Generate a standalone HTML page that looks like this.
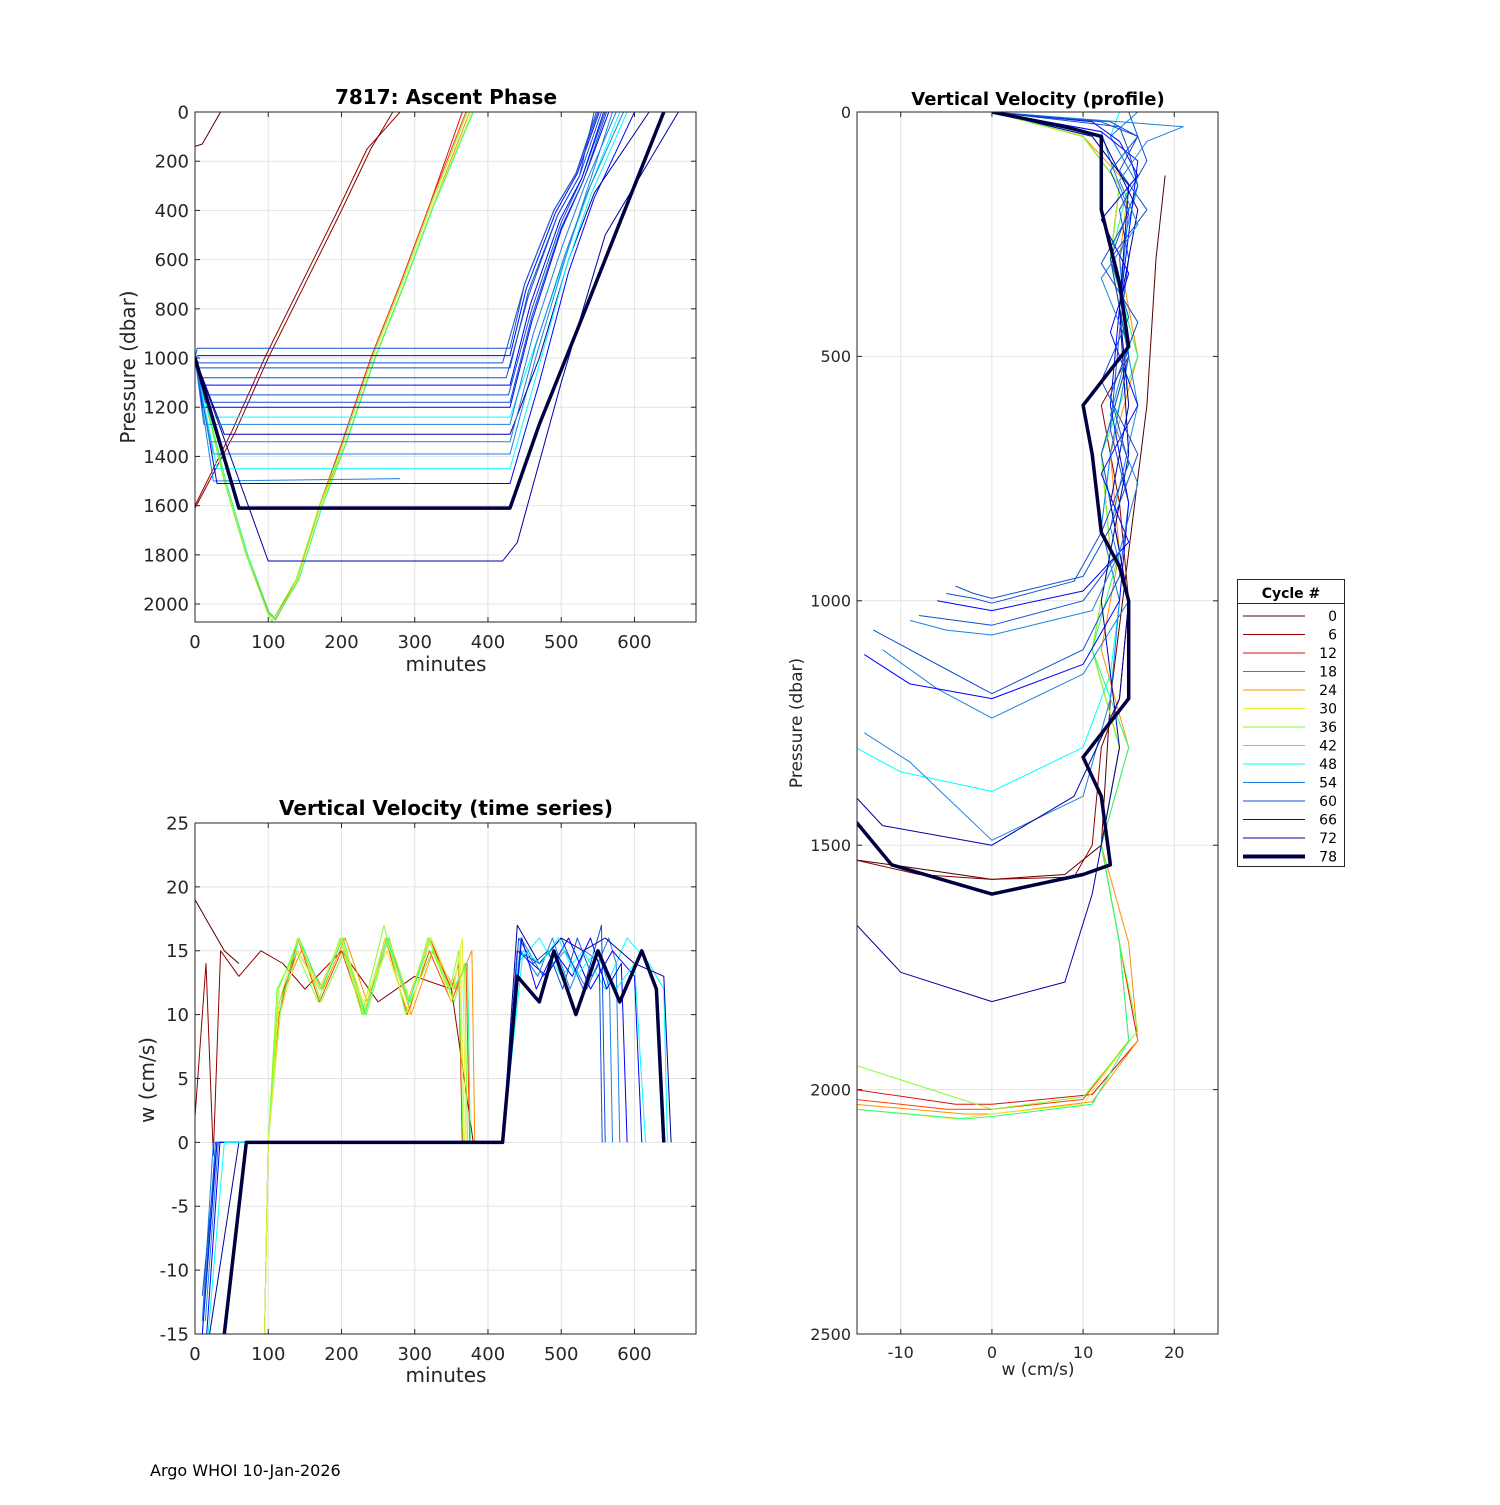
<!DOCTYPE html>
<html><head><meta charset="utf-8"><style>
body{margin:0;background:#fff;width:1500px;height:1500px;overflow:hidden;font-family:"Liberation Sans","DejaVu Sans",sans-serif}
svg text{font-family:"DejaVu Sans","Liberation Sans",sans-serif}
</style></head><body>
<svg id="chart" width="1500" height="1500" viewBox="0 0 1500 1500" xmlns="http://www.w3.org/2000/svg">
<rect width="1500" height="1500" fill="#fff"/>
<g id="p1"></g>
<g id="p2"></g>
<g id="p3"></g>
<g id="leg"></g>
<text x="150" y="1476" font-size="16">Argo WHOI 10-Jan-2026</text>
</svg>
<script>
const legendCycles=[0,6,12,18,24,30,36,42,48,54,60,66,72,78];
const legendColors=["#500000","#900000","#dd1010","#ff4000","#ff9000","#e8f030","#80ff30","#20ff80","#00ffff","#2080e0","#1050d0","#0000ff","#0000a0","#000040"];
// Ascent: minutes, pressure per representative cycle
const ascCycle=[0,6,6,12,18,24,30,36,42,48,54,54,60,60,60,66,66,72,72,78,60,66,60,54,48,66,60,54];
const ascT=[
 [0,10,35],
 [0,55,100,150,200,240,270],
 [0,50,95,145,195,235,280],
 [0,40,70,100,110,140,170,200,240,280,320,365],
 [0,40,70,100,108,140,170,200,240,280,320,370],
 [0,40,70,100,110,140,170,205,245,285,325,375],
 [0,40,70,100,110,140,172,205,245,285,325,378],
 [0,40,70,100,105,138,170,202,242,282,322,372],
 [0,42,72,102,110,142,174,206,246,286,326,380],
 [0,20,430,470,510,540,580],
 [0,25,430,465,505,535,570],
 [0,25,280],
 [0,5,420,450,490,520,550],
 [0,10,425,455,495,525,555],
 [0,15,428,460,500,528,560],
 [0,10,430,460,500,530,565],
 [0,30,430,470,510,545,600],
 [0,100,420,440,500,560,660],
 [0,40,430,470,510,545,620],
 [0,60,430,470,520,580,640],
 [0,3,430,450,490,520,548],
 [0,4,430,452,492,522,552],
 [0,6,430,455,495,525,545],
 [0,12,430,462,502,532,575],
 [0,30,430,468,508,540,590],
 [0,8,430,458,498,528,558],
 [0,14,430,460,500,530,562],
 [0,20,430,465,505,537,585]];
const ascP=[
 [140,130,0],
 [1610,1300,1000,700,400,150,0],
 [1600,1300,1000,700,400,150,0],
 [1000,1500,1800,2040,2060,1900,1600,1350,1000,700,380,0],
 [1000,1500,1800,2030,2055,1900,1600,1350,1000,700,380,0],
 [1000,1500,1800,2040,2065,1900,1600,1350,1000,700,380,0],
 [1000,1500,1800,2040,2060,1900,1600,1350,1000,700,380,0],
 [1000,1500,1800,2040,2070,1900,1600,1350,1000,700,380,0],
 [1000,1500,1800,2040,2060,1900,1600,1350,1000,700,380,0],
 [1000,1240,1240,900,550,300,0],
 [1000,1390,1390,1000,600,320,0],
 [1000,1500,1490],
 [1000,1020,1020,700,400,250,0],
 [1000,1080,1080,750,420,260,0],
 [1000,1150,1150,800,450,270,0],
 [1000,1200,1200,850,480,280,0],
 [1000,1510,1510,1100,650,350,0],
 [1000,1825,1825,1750,1100,500,0],
 [1000,1310,1310,1000,600,330,0],
 [1000,1610,1610,1270,900,450,0],
 [1000,960,960,700,400,250,0],
 [1000,990,990,720,410,250,0],
 [1000,1040,1040,730,420,260,0],
 [1000,1270,1270,900,540,300,0],
 [1000,1450,1450,1050,620,340,0],
 [1000,1110,1110,780,440,270,0],
 [1000,1180,1180,830,470,280,0],
 [1000,1340,1340,950,580,320,0]];
// Vertical velocity time series: minutes, w (cm/s)
const tsCycle=[0,6,12,18,24,30,36,42,48,54,60,66,72,78,60,54,66,48,36,30];
const tsT=[
 [0,10,20,30,40,60],
 [0,15,25,35,60,90,120,150,200,250,300,350,380],
 [95,100,115,140,170,200,230,260,290,320,350,360,365],
 [95,100,115,140,170,200,230,260,290,320,350,370,375],
 [95,100,115,145,175,205,235,265,295,325,355,378,382],
 [95,100,115,140,170,200,230,260,290,320,350,365,370],
 [95,100,112,138,168,198,228,258,288,318,348,360,366],
 [95,100,118,142,172,202,232,262,292,322,352,372,376],
 [10,30,420,440,470,500,530,560,590,620,640,645],
 [10,25,420,445,475,505,535,565,575,580],
 [10,30,420,440,470,500,530,555,560],
 [10,30,420,440,480,510,540,570,600,610],
 [20,60,420,440,470,500,530,560,600,640,650],
 [40,70,420,440,470,490,520,550,580,610,630,640],
 [12,28,420,442,462,482,502,522,542,552,556],
 [14,32,420,445,468,488,512,532,556,566,570],
 [16,34,420,446,466,490,515,540,562,582,590],
 [18,40,420,448,472,496,520,548,575,600,615],
 [95,100,114,142,172,204,234,264,294,324,354,368,372],
 [95,100,116,140,170,200,230,262,292,322,352,362,368]];
const tsW=[
 [19,18,17,16,15,14],
 [2,14,-1,15,13,15,14,12,15,11,13,12,0],
 [-15,0,11,15,12,16,10,16,11,16,12,14,0],
 [-15,0,10,16,11,15,10,16,10,15,11,14,0],
 [-15,0,11,15,12,16,11,16,10,15,12,15,0],
 [-15,0,11,16,12,16,10,16,11,16,11,16,0],
 [-15,0,12,15,11,16,10,17,10,16,12,15,0],
 [-15,0,11,16,12,16,10,16,11,16,12,14,0],
 [-15,0,0,14,16,13,15,12,16,14,12,0],
 [-14,0,0,16,13,15,12,16,14,0],
 [-12,0,0,15,14,16,12,17,0],
 [-15,0,0,15,13,16,12,15,13,0],
 [-15,0,0,17,14,16,15,16,14,13,0],
 [-15,0,0,13,11,15,10,15,11,15,12,0],
 [-13,0,0,16,14,15,12,16,13,14,0],
 [-14,0,0,15,13,16,12,15,14,12,0],
 [-15,0,0,16,12,15,13,16,12,14,0],
 [-15,0,0,15,14,16,13,15,12,14,0],
 [-15,0,12,16,11,15,10,16,11,15,11,14,0],
 [-15,0,10,15,12,16,11,15,10,16,12,15,0]];
// Vertical velocity profile: w (cm/s), pressure
const prCycle=[0,6,12,18,24,30,36,42,48,54,54,60,60,66,72,72,78,60,66,54,60];
const prW=[
 [-15,-11,0,8,12,13,15,17,18,19],
 [-15,-8,0,9,11,12,14,15,14,12,15,13,14,10,0],
 [-15,-4,0,11,16,14,12,14,11,13,12,15,13,14,10,0],
 [-15,-5,0,10,15,14,12,14,11,13,12,15,13,14,10,0],
 [-15,-3,0,11,16,15,12,15,12,14,13,16,14,15,10,0],
 [-15,-4,0,10,15,14,12,14,11,13,12,15,13,14,10,0],
 [-15,-5,0,10,16,14,12,14,11,13,12,15,13,14,10,0],
 [-15,-3,0,11,15,14,12,15,11,14,12,16,13,15,11,0],
 [-15,-10,0,10,13,14,12,13,15,14,16,13,14,10,0],
 [-14,-9,0,10,13,14,12,13,15,14,16,13,16,11,0],
 [-12,-6,0,10,15,13,16,14,15,13,12,0],
 [-13,-7,0,10,14,15,13,14,15,14,17,15,12,0],
 [-8,-4,0,10,14,12,15,13,16,15,14,0],
 [-14,-9,0,10,14,15,13,14,15,16,12,0],
 [-15,-12,0,9,14,15,13,15,14,16,12,0],
 [-15,-10,0,8,11,14,12,15,14,15,11,0],
 [-15,-11,0,10,13,12,10,15,15,14,12,11,10,15,14,12,12,8,0],
 [-4,-2,0,10,13,16,12,15,13,17,14,16,13,0],
 [-6,-3,0,10,15,12,16,13,15,12,16,14,11,0],
 [-9,-5,0,11,14,16,13,15,12,16,14,17,21,0],
 [-5,-2,0,9,12,15,13,16,12,15,13,16,12,0]];
const prP=[
 [1530,1540,1570,1560,1500,1200,900,600,300,130],
 [1530,1560,1570,1565,1500,1300,1200,1000,800,600,500,300,150,50,0],
 [2000,2030,2030,2010,1900,1700,1500,1300,1100,900,700,500,300,150,50,0],
 [2020,2040,2040,2020,1900,1700,1500,1300,1100,900,700,500,300,150,50,0],
 [2030,2050,2050,2025,1900,1700,1500,1300,1100,900,700,500,300,150,50,0],
 [2040,2060,2050,2030,1900,1700,1500,1300,1100,900,700,500,300,150,50,0],
 [1950,2010,2040,2015,1880,1700,1500,1300,1100,900,700,500,300,150,50,0],
 [2040,2060,2055,2030,1900,1700,1500,1300,1100,900,700,500,300,150,50,0],
 [1300,1350,1390,1300,1150,1000,850,700,500,300,150,50,0],
 [1270,1330,1490,1400,1200,1000,850,700,500,300,150,50,0],
 [1100,1180,1240,1150,1000,850,600,400,200,100,40,0],
 [1060,1120,1190,1100,950,800,650,450,300,200,100,0],
 [1030,1040,1050,1000,900,700,500,300,150,80,30,0],
 [1110,1170,1200,1130,1000,800,600,400,250,100,40,0],
 [1400,1460,1500,1400,1200,1000,800,600,400,200,50,0],
 [1660,1760,1820,1780,1600,1300,1000,700,400,150,50,0],
 [1450,1540,1600,1560,1540,1400,1320,1200,1000,930,860,700,600,480,350,200,50,30,0],
 [970,985,995,950,850,700,550,420,300,200,120,50,20,0],
 [1000,1010,1020,980,880,740,600,450,330,220,130,60,20,0],
 [1040,1060,1070,1020,900,760,620,480,340,230,140,60,30,0],
 [985,995,1005,960,860,720,580,430,310,210,120,50,20,0]];

const NS="http://www.w3.org/2000/svg";
function mk(tag,attrs,parent){const e=document.createElementNS(NS,tag);for(const k in attrs)e.setAttribute(k,attrs[k]);parent.appendChild(e);return e;}
function colorOf(c){return legendColors[legendCycles.indexOf(c)];}

function axes(g,box,xd,yd,xt,yt,opts){
  const sx=v=>box.x+(v-xd[0])/(xd[1]-xd[0])*box.w;
  const sy=v=>box.y+(v-yd[0])/(yd[1]-yd[0])*box.h;
  mk('rect',{x:box.x,y:box.y,width:box.w,height:box.h,fill:'#fff'},g);
  xt.forEach(v=>{const l=mk('line',{x1:sx(v),x2:sx(v),y1:box.y,y2:box.y+box.h,stroke:'#e3e3e3','stroke-width':1},g);
    
    
    const t=mk('text',{x:sx(v),y:box.y+box.h+opts.fs+8,'font-size':opts.fs,'text-anchor':'middle',fill:'#262626'},g);t.textContent=v;
    
    
    mk('line',{x1:sx(v),x2:sx(v),y1:box.y+box.h,y2:box.y+box.h-5,stroke:'#262626'},g);mk('line',{x1:sx(v),x2:sx(v),y1:box.y,y2:box.y+5,stroke:'#262626'},g);});
  yt.forEach(v=>{const l=mk('line',{x1:box.x,x2:box.x+box.w,y1:sy(v),y2:sy(v),stroke:'#e3e3e3','stroke-width':1},g);
    
    
    const t=mk('text',{x:box.x-6,y:sy(v)+opts.fs*0.36,'font-size':opts.fs,'text-anchor':'end',fill:'#262626'},g);t.textContent=v;
    
    
    mk('line',{x1:box.x,x2:box.x+5,y1:sy(v),y2:sy(v),stroke:'#262626'},g);mk('line',{x1:box.x+box.w,x2:box.x+box.w-5,y1:sy(v),y2:sy(v),stroke:'#262626'},g);});
  return {sx,sy};
}
function frame(g,box){const r=mk('rect',{x:box.x,y:box.y,width:box.w,height:box.h,fill:'none',stroke:'#262626','stroke-width':1},g);
  
  }
function series(g,s,xs,ys,c,cls){
  const pts=xs.map((v,i)=>s.sx(v).toFixed(1)+','+s.sy(ys[i]).toFixed(1)).join(' ');
  const w=c===78?3.5:1;
  const p=mk('polyline',{points:pts,fill:'none',stroke:colorOf(c),'stroke-width':w,'stroke-linejoin':'round'},g);
  
  
}
function label(g,x,y,txt,fs,bold,rot,name){
  const t=mk('text',{x:x,y:y,'font-size':fs,'text-anchor':'middle',fill:bold?'#000':'#262626','font-weight':bold?'bold':'normal'},g);
  if(rot)t.setAttribute('transform','rotate(-90 '+x+' '+y+')');
  t.textContent=txt;
  
  
}
function clip(id,box){const d=mk('clipPath',{id:id},document.getElementById('chart'));mk('rect',{x:box.x,y:box.y,width:box.w,height:box.h},d);}
function drawOrdered(g,s,xsArr,ysArr,cyc,cls){
  const idx=xsArr.map((_,i)=>i).sort((a,b)=>(cyc[a]===78)-(cyc[b]===78));
  idx.forEach(i=>series(g,s,xsArr[i],ysArr[i],cyc[i],cls));
}

// Panel 1
const g1=document.getElementById('p1');const b1={x:195,y:112,w:501,h:510};
const s1=axes(g1,b1,[0,684],[0,2073],[0,100,200,300,400,500,600],[0,200,400,600,800,1000,1200,1400,1600,1800,2000],{fs:18});
clip('c1',b1);const l1=mk('g',{'clip-path':'url(#c1)'},g1);
drawOrdered(l1,s1,ascT,ascP,ascCycle,'ascent-line');
frame(g1,b1);
label(g1,446,104,'7817: Ascent Phase',20,true,false,'ascent-title');
label(g1,446,671,'minutes',20,false,false,'ascent-x-title');
label(g1,135,367,'Pressure (dbar)',20,false,true,'ascent-y-title');

// Panel 2
const g2=document.getElementById('p2');const b2={x:195,y:823,w:501,h:511};
const s2=axes(g2,b2,[0,684],[25,-15],[0,100,200,300,400,500,600],[25,20,15,10,5,0,-5,-10,-15],{fs:18});
clip('c2',b2);const l2=mk('g',{'clip-path':'url(#c2)'},g2);
drawOrdered(l2,s2,tsT,tsW,tsCycle,'velocity-time-line');
frame(g2,b2);
label(g2,446,815,'Vertical Velocity (time series)',20,true,false,'time-series-title');
label(g2,446,1382,'minutes',20,false,false,'time-series-x-title');
label(g2,154,1080,'w (cm/s)',20,false,true,'time-series-y-title');

// Panel 3
const g3=document.getElementById('p3');const b3={x:857,y:112,w:361,h:1222};
const s3=axes(g3,b3,[-14.8,24.8],[0,2500],[-10,0,10,20],[0,500,1000,1500,2000,2500],{fs:16});
clip('c3',b3);const l3=mk('g',{'clip-path':'url(#c3)'},g3);
drawOrdered(l3,s3,prW,prP,prCycle,'velocity-profile-line');
frame(g3,b3);
label(g3,1038,105,'Vertical Velocity (profile)',18,true,false,'profile-title');
label(g3,1038,1375,'w (cm/s)',17,false,false,'profile-x-title');
label(g3,802,723,'Pressure (dbar)',17,false,true,'profile-y-title');

// Legend
const lg=document.getElementById('leg');
mk('rect',{x:1237.5,y:579.5,width:107,height:287,fill:'#fff',stroke:'#262626'},lg);
mk('line',{x1:1237.5,x2:1344.5,y1:603.5,y2:603.5,stroke:'#262626'},lg);
label(lg,1291,598,'Cycle #',14,true,false,'legend-title');
legendCycles.forEach((c,i)=>{const y=616+i*18.5;
  const l=mk('line',{x1:1243,x2:1305,y1:y,y2:y,stroke:legendColors[i],'stroke-width':c===78?4:1},lg);
  
  
  const t=mk('text',{x:1337,y:y+5,'font-size':14,'text-anchor':'end',fill:'#000'},lg);t.textContent=c;
  
  });
</script>
</body></html>
